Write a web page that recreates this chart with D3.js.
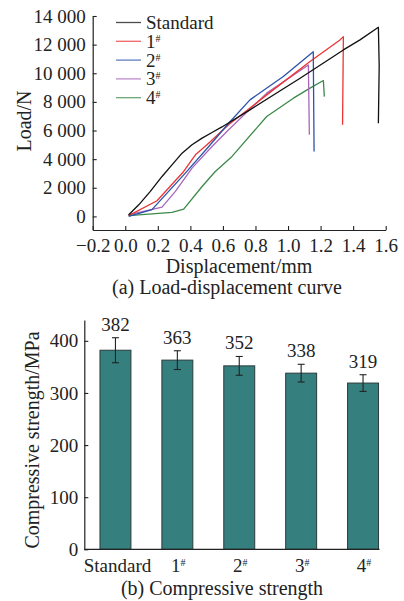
<!DOCTYPE html>
<html>
<head>
<meta charset="utf-8">
<script src="https://cdn.jsdelivr.net/npm/d3@7"></script>
<style>
body { margin: 0; background: #fff; }
svg text { font-family: "Liberation Serif", serif !important; }
</style>
</head>
<body>
<div id="chart"></div>
<script>
// load-displacement curves
var seriesNames = ["Standard", "1#", "2#", "3#", "4#"];
var seriesColors = ["#111111", "#ec3434", "#2c52ac", "#a866ba", "#3b8a49"];
var stdX = [0.02, 0.083, 0.154, 0.226, 0.287, 0.349, 0.41, 0.472, 0.533, 0.594, 0.766, 1.074, 1.34, 1.442, 1.555, 1.56, 1.555];
var stdY = [100, 810, 1750, 2790, 3600, 4420, 5000, 5470, 5860, 6250, 7440, 9650, 11630, 12330, 13210, 10500, 6500];
var s1X = [0.021, 0.195, 0.359, 0.431, 0.502, 0.635, 0.869, 1.135, 1.319, 1.34, 1.335];
var s1Y = [50, 1090, 3140, 4300, 5000, 6400, 8490, 10820, 12330, 12560, 6400];
var s2X = [0.021, 0.164, 0.369, 0.513, 0.635, 0.766, 0.971, 1.155, 1.16];
var s2Y = [0, 470, 3020, 4880, 6510, 8140, 9770, 11510, 4540];
var s3X = [0.025, 0.226, 0.308, 0.41, 0.533, 0.635, 0.869, 1.125, 1.131];
var s3Y = [120, 650, 1750, 3370, 4880, 6050, 8610, 10580, 5700];
var s4X = [0.021, 0.287, 0.359, 0.472, 0.553, 0.656, 0.869, 1.033, 1.135, 1.217, 1.223];
var s4Y = [50, 280, 510, 2090, 3140, 4190, 6980, 8260, 8960, 9490, 8370];
var xTicks = [-0.2, 0, 0.2, 0.4, 0.6, 0.8, 1.0, 1.2, 1.4, 1.6];
var yTicks = [0, 2000, 4000, 6000, 8000, 10000, 12000, 14000];

// compressive strength bars
var barCats = ["Standard", "1#", "2#", "3#", "4#"];
var barVals = [382, 363, 352, 338, 319];
var barErr = [24, 18, 18, 17, 16];
var barTicks = [0, 100, 200, 300, 400];

var FONT = "Liberation Serif";
var w = 404, h = 601;
var svg = d3.select("#chart").append("svg").attr("width", w).attr("height", h)
    .attr("font-family", FONT).attr("fill", "#222");

function txt(x, y, size) {
    return svg.append("text").attr("x", x).attr("y", y)
        .attr("font-family", FONT).attr("font-size", size).attr("fill", "#222");
}

function supLabel(sel, s, size) {
    // "1#" -> 1 with superscript #
    var parts = s.split("#");
    sel.text(parts[0]);
    if (s.indexOf("#") >= 0) {
        sel.append("tspan").attr("dy", -6).attr("font-size", size).text("#");
    }
}

function styleAxis(g) {
    g.attr("font-family", FONT).attr("font-size", 19);
    g.select(".domain").attr("stroke", "#222").attr("stroke-width", 1.2);
    g.selectAll(".tick line").attr("stroke", "#222").attr("stroke-width", 1.1);
    g.selectAll("text").attr("fill", "#222").attr("font-family", FONT).attr("font-size", 19);
}

/* ---------------- (a) load-displacement ---------------- */
var xs = d3.scaleLinear().domain([-0.2, 1.6]).range([92.7, 385.7]);
var ys = d3.scaleLinear().domain([-950, 14000]).range([230, 16]);

var fmt = function (d) { return d >= 1000 ? Math.floor(d / 1000) + " 000" : d; };
var gy = svg.append("g").attr("transform", "translate(92.7,0)")
    .call(d3.axisLeft(ys).tickValues(yTicks).tickSizeInner(-4).tickSizeOuter(0).tickPadding(7).tickFormat(fmt));
var gx = svg.append("g").attr("transform", "translate(0,230)")
    .call(d3.axisBottom(xs).tickValues(xTicks).tickSizeInner(-4).tickSizeOuter(0).tickPadding(9)
        .tickFormat(function (d) { return d < 0 ? "\u2212" + Math.abs(d).toFixed(1) : d.toFixed(1); }));
styleAxis(gx);
styleAxis(gy);

var allX = [stdX, s1X, s2X, s3X, s4X];
var allY = [stdY, s1Y, s2Y, s3Y, s4Y];
var line = d3.line().x(function (d) { return xs(d[0]); }).y(function (d) { return ys(d[1]); });
// draw back to front so black ends on top like the picture
[4, 3, 1, 2, 0].forEach(function (i) {
    var pts = allX[i].map(function (x, j) { return [x, allY[i][j]]; });
    svg.append("path").attr("d", line(pts)).attr("fill", "none")
        .attr("stroke", seriesColors[i]).attr("stroke-width", 1.3).attr("stroke-linejoin", "round");
});

seriesNames.forEach(function (n, i) {
    var yy = 22.5 + i * 18.8;
    svg.append("line").attr("x1", 116).attr("x2", 141).attr("y1", yy).attr("y2", yy)
        .attr("stroke", seriesColors[i]).attr("stroke-width", 1.3).attr("opacity", 0.75);
    txt(146, yy + 6.5, 19).call(supLabel, n, 10);
});

txt(0, 0, 20).attr("transform", "translate(31,121) rotate(-90)").attr("text-anchor", "middle").text("Load/N");
txt(239, 273, 20).attr("text-anchor", "middle").text("Displacement/mm");
txt(227, 294, 20).attr("text-anchor", "middle").text("(a) Load-displacement curve");

/* ---------------- (b) compressive strength ---------------- */
var bx = d3.scaleBand().domain(barCats).range([84.5, 394]).paddingInner(0.5).paddingOuter(0.25);
var by = d3.scaleLinear().domain([0, 440]).range([549.3, 320]);

var gby = svg.append("g").attr("transform", "translate(84.3,0)")
    .call(d3.axisLeft(by).tickValues(barTicks).tickSizeInner(-4).tickSizeOuter(0).tickPadding(6));
styleAxis(gby);

svg.selectAll("rect.bar").data(barVals).enter().append("rect").attr("class", "bar")
    .attr("x", function (d, i) { return bx(barCats[i]); })
    .attr("y", function (d) { return by(d); })
    .attr("width", bx.bandwidth())
    .attr("height", function (d) { return by(0) - by(d); })
    .attr("fill", "#367f7f").attr("stroke", "#2a3a3a").attr("stroke-width", 1);

svg.append("line").attr("x1", 84.3).attr("x2", 379.5).attr("y1", by(0)).attr("y2", by(0))
    .attr("stroke", "#222").attr("stroke-width", 1.2);

var eb = svg.append("g").attr("stroke", "#222").attr("stroke-width", 1.1);
barVals.forEach(function (v, i) {
    var cx = bx(barCats[i]) + bx.bandwidth() / 2;
    eb.append("line").attr("x1", cx).attr("x2", cx).attr("y1", by(v + barErr[i])).attr("y2", by(v - barErr[i]));
    eb.append("line").attr("x1", cx - 3.5).attr("x2", cx + 3.5).attr("y1", by(v + barErr[i])).attr("y2", by(v + barErr[i]));
    eb.append("line").attr("x1", cx - 3.5).attr("x2", cx + 3.5).attr("y1", by(v - barErr[i])).attr("y2", by(v - barErr[i]));
    txt(cx, by(v + barErr[i]) - 7, 19).attr("text-anchor", "middle").text(v);
    txt(cx + (i === 0 ? 2 : 1), 572, 19).attr("text-anchor", "middle").call(supLabel, barCats[i], 10);
});

txt(0, 0, 20).attr("transform", "translate(39,440) rotate(-90)").attr("text-anchor", "middle")
    .text("Compressive strength/MPa");
txt(222, 595, 20).attr("text-anchor", "middle").text("(b) Compressive strength");
</script>
</body>
</html>
